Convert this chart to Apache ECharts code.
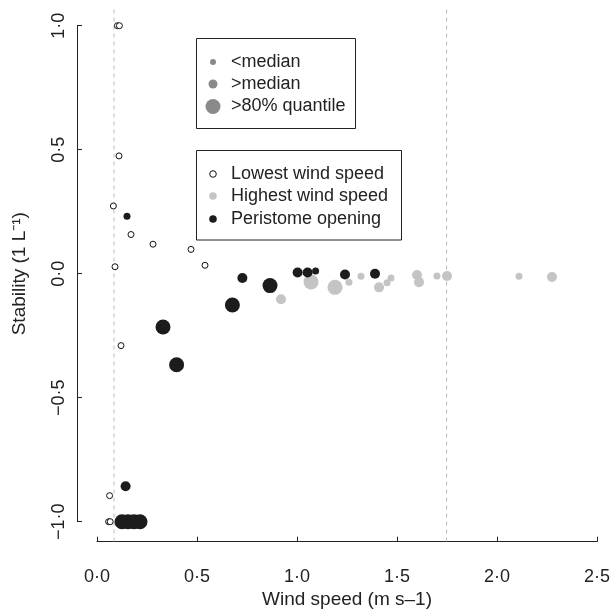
<!DOCTYPE html>
<html>
<head>
<meta charset="utf-8">
<script src="https://cdn.jsdelivr.net/npm/echarts@6/dist/echarts.min.js"></script>
<style>
  html, body { margin: 0; padding: 0; background: #fff; }
  #chart { width: 612px; height: 610px; }
</style>
</head>
<body>
<div id="chart"></div>
<script>
// values
const xTicks = [0, 0.5, 1, 1.5, 2, 2.5];
const yTicks = [-1, -0.5, 0, 0.5, 1];

// lowest wind speed (open circles)
const lowX = [0.102, 0.112, 0.11, 0.082, 0.17, 0.28, 0.47, 0.54, 0.09, 0.12, 0.063, 0.058, 0.066];
const lowY = [1.0, 1.0, 0.475, 0.273, 0.158, 0.119, 0.098, 0.034, 0.028, -0.29, -0.895, -1.0, -1.0];

// highest wind speed (grey); size class 1 <median, 2 >median, 3 >80% quantile
const highX = [0.92, 1.07, 1.19, 1.26, 1.32, 1.41, 1.45, 1.47, 1.60, 1.61, 1.70, 1.75, 2.11, 2.275];
const highY = [-0.103, -0.033, -0.055, -0.034, -0.01, -0.055, -0.036, -0.017, -0.005, -0.034, -0.009, -0.009, -0.01, -0.013];
const highSize = [2, 3, 3, 1, 1, 2, 1, 1, 2, 2, 1, 2, 1, 2];

// peristome opening (black)
const periX = [0.15, 0.727, 0.865, 0.677, 0.33, 0.398, 1.003, 1.053, 1.093, 1.24, 1.39, 0.143, 0.125, 0.155, 0.185, 0.215];
const periY = [0.232, -0.017, -0.048, -0.126, -0.215, -0.367, 0.005, 0.005, 0.011, -0.003, 0.0, -0.857, -1.0, -1.0, -1.0, -1.0];
const periSize = [1, 2, 3, 3, 3, 3, 2, 2, 1, 2, 2, 2, 3, 3, 3, 3];

// dashed reference lines
const refLines = [0.085, 1.748];

const sizePx = [0, 7, 10, 15];
const FONT = '"Liberation Sans", Arial, sans-serif';
const INK = '#222';

const fmt = v => {
  const s = Math.abs(v).toFixed(1).replace('.', '\u00b7');
  return v < 0 ? '\u2212' + s : s;
};

const zip = (xs, ys, ss) => xs.map((x, i) => ss ? [x, ys[i], ss[i]] : [x, ys[i]]);

const refSeries = refLines.map(x => ({
  type: 'line',
  data: [[x, -1.08], [x, 1.08]],
  symbol: 'none',
  clip: false,
  silent: true,
  lineStyle: { color: '#bdbdbd', width: 1, type: [4, 4] },
  z: 1
}));

const chart = echarts.init(document.getElementById('chart'));
chart.setOption({
  animation: false,
  textStyle: { fontFamily: FONT },
  grid: { left: 97, right: 15, top: 25.7, bottom: 88.3, outerBoundsMode: 'none' },
  xAxis: {
    type: 'value',
    min: xTicks[0],
    max: xTicks[xTicks.length - 1],
    interval: 0.5,
    offset: 20,
    splitLine: { show: false },
    axisLine: { onZero: false, lineStyle: { color: INK, width: 1 } },
    axisTick: { inside: true, length: 5, lineStyle: { color: INK } },
    axisLabel: { formatter: fmt, color: INK, fontSize: 18, margin: 26, fontFamily: FONT },
    name: 'Wind speed (m s\u20131)',
    nameLocation: 'middle',
    nameGap: 45,
    nameTextStyle: { color: INK, fontSize: 19, fontFamily: FONT }
  },
  yAxis: {
    type: 'value',
    min: yTicks[0],
    max: yTicks[yTicks.length - 1],
    interval: 0.5,
    offset: 20,
    splitLine: { show: false },
    axisLine: { onZero: false, lineStyle: { color: INK, width: 1 } },
    axisTick: { inside: true, length: 5, lineStyle: { color: INK } },
    axisLabel: { formatter: fmt, color: INK, fontSize: 18, rotate: 90, margin: 9, fontFamily: FONT },
    name: 'Stability (1 L\u207b\u00b9)',
    nameLocation: 'middle',
    nameGap: 48,
    nameTextStyle: { color: INK, fontSize: 19, fontFamily: FONT }
  },
  series: [
    ...refSeries,
    {
      name: 'Lowest wind speed',
      type: 'scatter',
      data: zip(lowX, lowY),
      symbolSize: 6,
      clip: false,
      itemStyle: { color: '#fff', borderColor: '#111', borderWidth: 1, opacity: 1 },
      z: 2
    },
    {
      name: 'Highest wind speed',
      type: 'scatter',
      data: zip(highX, highY, highSize),
      symbolSize: d => sizePx[d[2]],
      clip: false,
      itemStyle: { color: '#c4c4c4', opacity: 1 },
      z: 3
    },
    {
      name: 'Peristome opening',
      type: 'scatter',
      data: zip(periX, periY, periSize),
      symbolSize: d => sizePx[d[2]],
      clip: false,
      itemStyle: { color: '#1c1c1c', opacity: 1 },
      z: 4
    }
  ],
  graphic: [
    // size legend
    { type: 'rect', shape: { x: 196.5, y: 38.5, width: 159, height: 90 }, style: { fill: 'none', stroke: INK, lineWidth: 1 } },
    { type: 'circle', shape: { cx: 213, cy: 62, r: 3 }, style: { fill: '#8a8a8a' } },
    { type: 'circle', shape: { cx: 213, cy: 84, r: 4.5 }, style: { fill: '#8a8a8a' } },
    { type: 'circle', shape: { cx: 213, cy: 106.5, r: 7.5 }, style: { fill: '#8a8a8a' } },
    { type: 'text', x: 231, y: 62, style: { text: '<median', font: '18px ' + FONT, fill: INK, verticalAlign: 'middle' } },
    { type: 'text', x: 231, y: 84, style: { text: '>median', font: '18px ' + FONT, fill: INK, verticalAlign: 'middle' } },
    { type: 'text', x: 231, y: 106.5, style: { text: '>80% quantile', font: '18px ' + FONT, fill: INK, verticalAlign: 'middle' } },
    // group legend
    { type: 'rect', shape: { x: 196.5, y: 150.5, width: 205, height: 89.5 }, style: { fill: 'none', stroke: INK, lineWidth: 1 } },
    { type: 'circle', shape: { cx: 213, cy: 174, r: 3.3 }, style: { fill: '#fff', stroke: '#111', lineWidth: 1 } },
    { type: 'circle', shape: { cx: 213, cy: 196, r: 3.8 }, style: { fill: '#c4c4c4' } },
    { type: 'circle', shape: { cx: 213, cy: 219, r: 3.8 }, style: { fill: '#1c1c1c' } },
    { type: 'text', x: 231, y: 174, style: { text: 'Lowest wind speed', font: '18px ' + FONT, fill: INK, verticalAlign: 'middle' } },
    { type: 'text', x: 231, y: 196, style: { text: 'Highest wind speed', font: '18px ' + FONT, fill: INK, verticalAlign: 'middle' } },
    { type: 'text', x: 231, y: 219, style: { text: 'Peristome opening', font: '18px ' + FONT, fill: INK, verticalAlign: 'middle' } }
  ]
});
</script>
</body>
</html>
